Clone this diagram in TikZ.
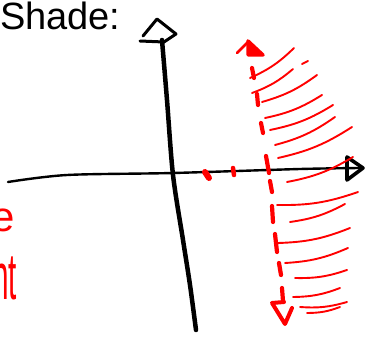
\documentclass[tikz,border=0pt]{standalone}
\usepackage{fontspec}
\setmainfont{Liberation Sans}
\begin{document}
\begin{tikzpicture}[x=1pt,y=-1pt,
  hatch/.style={red, line width=1.9pt, line cap=round},
  axis/.style={black, line cap=round, line join=round},
  reddash/.style={red, line width=4.2pt, line cap=round, line join=round},
  lbl/.style={inner sep=0pt, outer sep=0pt}]
\useasboundingbox (0,0) rectangle (365,337);
\clip (0,0) rectangle (365,337);

% title
\node[lbl, anchor=base west, font=\fontsize{38}{38}\selectfont] (title) at (0,30) {Shade:};
% red cut-off words on the left
\node[lbl, anchor=base east, text=red, font=\fontsize{42}{42}\selectfont] (wa) at (15,232) {e};
\node[lbl, anchor=base east, text=red, font=\fontsize{66}{66}\selectfont, xscale=0.45] (wb) at (17,299) {nt};

% x axis
\draw[axis, line width=2.4pt] plot[smooth] coordinates {(8,182) (67,175) (173,173) (300,169) (360,168)};
\draw[axis, line width=3.6pt] (347,157) -- (347,180) -- (363,168) -- cycle;
% y axis
\draw[axis, line width=4.5pt] plot[smooth] coordinates {(162,40) (167,100) (173,175) (183,240) (190,285) (196,330)};
\draw[axis, line width=3pt] (140,41) -- (164,42) -- (176,34) -- (157,19) -- (143,36);

% red dashes on x axis
\draw[reddash, line width=6pt] (205,172) -- (209,178);
\draw[reddash, line width=4.5pt] (233,168) -- (234,175);

% red dashed vertical line
\foreach \xa/\ya/\xb/\yb in {252/68/254/78, 257/94/258/105, 261/123/263/133, 266/156/269/173, 270/181/272/192, 272/206/273/222, 275/234/277/252, 279/263/281/275, 282/288/283/301}
  \draw[reddash] (\xa,\ya) -- (\xb,\yb);
\draw[reddash, line width=3.5pt, fill=red] (248,41) -- (263,55) -- (248,55) -- cycle;
\draw[reddash, line width=2.5pt] (248,42) -- (237,53);
\draw[reddash, line width=4pt] (284,302) -- (272,303) -- (285,324) -- (292,308);

% hatching
\foreach \xa/\ya/\xb/\yb in {250/78/294/48, 302/64/308/61, 252/93/293/69, 262/102/317/75, 265/118/322/95, 270/130/333/105, 275/145/335/117, 278/158/352/127, 287/182/353/157, 277/205/358/192, 290/222/345/204, 278/243/350/228, 285/263/348/248, 295/278/347/270, 293/297/340/288, 300/307/347/302, 307/313/340/307}
  \draw[hatch] (\xa,\ya) to[bend right=10] (\xb,\yb);
\end{tikzpicture}
\end{document}
